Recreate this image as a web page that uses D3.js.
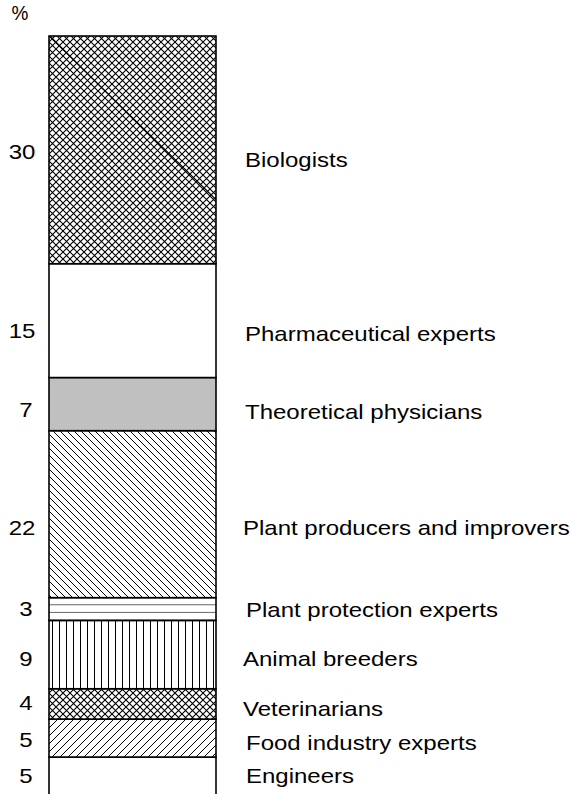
<!DOCTYPE html>
<html>
  <head>
    <!-- Load D3 from CDN -->
    <script src="https://d3js.org/d3.v7.min.js" charset="utf-8"></script>

    <style type="text/css">
    body {
      margin: 0;
      background: #fff;
    }
    text {
      font-family: "Liberation Sans", Arial, sans-serif;
      font-size: 20px;
      fill: #000;
    }
    </style>
  </head>

  <body>
  <script type="text/javascript">

  /* Data, bottom of the bar first */
  var categories = ["Engineers", "Food industry experts", "Veterinarians", "Animal breeders",
                    "Plant protection experts", "Plant producers and improvers",
                    "Theoretical physicians", "Pharmaceutical experts", "Biologists"];
  var shares = [5, 5, 4, 9, 3, 22, 7, 15, 30];
  var fills = ["white", "diagUp", "crossSmall", "vert", "horiz", "diagDown", "gray", "white", "cross"];

  // little nudges so the labels sit where the original puts them
  var numNudge = [0, 2, -1, 4, 0, 14, 6, 10, 2.5];
  var nameNudge = [0, 5, 5, 4, 1, 14, 8, 13, 10];
  var nameX = [246, 246, 243, 243, 246, 243, 245, 245, 245];

  var width = 575, height = 794;
  var stretch = 1.2;  // the original text is drawn wider than normal

  var svg = d3.select("body").append("svg")
    .attr("width", width)
    .attr("height", height);

  var y = d3.scaleLinear().domain([0, 100]).range([795, 36]);
  var x0 = 49, x1 = 216;

  // stack the shares
  var stack = [];
  var acc = 0;
  shares.forEach(function(d, i) {
    stack.push({name: categories[i], value: d, lo: acc, hi: acc + d, fill: fills[i], i: i});
    acc += d;
  });

  /* Hatch patterns */
  var defs = svg.append("defs");

  function hatch(id, size, path, sw, yOff) {
    var p = defs.append("pattern")
      .attr("id", id)
      .attr("patternUnits", "userSpaceOnUse")
      .attr("x", x0)
      .attr("y", yOff || 0)
      .attr("width", size)
      .attr("height", size);
    p.append("rect").attr("width", size).attr("height", size).attr("fill", "white");
    p.append("path").attr("d", path)
      .attr("stroke", "#000")
      .attr("stroke-width", sw)
      .attr("fill", "none");
  }

  function crossPath(s) {
    return "M0,0L" + s + "," + s + "M" + s + ",0L0," + s;
  }

  hatch("cross", 7, crossPath(7), 1.1);
  hatch("crossSmall", 7, crossPath(7), 1.1);
  hatch("diagDown", 7, "M0,0L7,7M-1,6L1,8M6,-1L8,1", 1);
  hatch("diagUp", 8, "M0,8L8,0M-1,1L1,-1M7,9L9,7", 1);
  hatch("vert", 7, "M3.5,0V7", 1);
  // horizontal lines split the segment in three
  var hp = stack[4];
  var hpSize = (y(hp.lo) - y(hp.hi)) / 3;
  hatch("horiz", hpSize, "M0," + hpSize + "H" + hpSize, 1.2, y(hp.hi));

  function fillOf(f) {
    if (f == "white") return "white";
    if (f == "gray") return "#c0c0c0";
    return "url(#" + f + ")";
  }

  /* The bar itself */
  svg.selectAll("rect.seg")
    .data(stack)
    .enter()
    .append("rect")
    .attr("class", "seg")
    .attr("x", x0)
    .attr("y", function(d) { return y(d.hi); })
    .attr("width", x1 - x0)
    .attr("height", function(d) { return y(d.lo) - y(d.hi); })
    .attr("fill", function(d) { return fillOf(d.fill); })
    .attr("stroke", "#000")
    .attr("stroke-width", 1.6);

  // stray diagonal stroke across the top segment
  var topSeg = stack[stack.length - 1];
  defs.append("clipPath").attr("id", "topClip")
    .append("rect")
    .attr("x", x0).attr("y", y(topSeg.hi))
    .attr("width", x1 - x0).attr("height", y(topSeg.lo) - y(topSeg.hi));
  svg.append("line")
    .attr("clip-path", "url(#topClip)")
    .attr("x1", x0).attr("y1", y(topSeg.hi))
    .attr("x2", x1).attr("y2", y(topSeg.hi) + (x1 - x0) * 0.98)
    .attr("stroke", "#000")
    .attr("stroke-width", 1.2);

  /* Text, stretched horizontally */
  function label(g, tx, ty, str, anchor, sx) {
    g.append("g")
      .attr("transform", "translate(" + tx + "," + ty + ") scale(" + (sx || stretch) + ",1)")
      .append("text")
      .attr("text-anchor", anchor)
      .text(str);
  }

  label(svg, 20, 20, "%", "middle", 0.95);

  stack.forEach(function(d) {
    var mid = (y(d.lo) + y(d.hi)) / 2;
    label(svg, d.value >= 10 ? 22 : 26, mid + numNudge[d.i] + 7, d.value, "middle");
    label(svg, nameX[d.i], mid + nameNudge[d.i] + 7, d.name, "start");
  });

  </script>
  </body>
</html>
